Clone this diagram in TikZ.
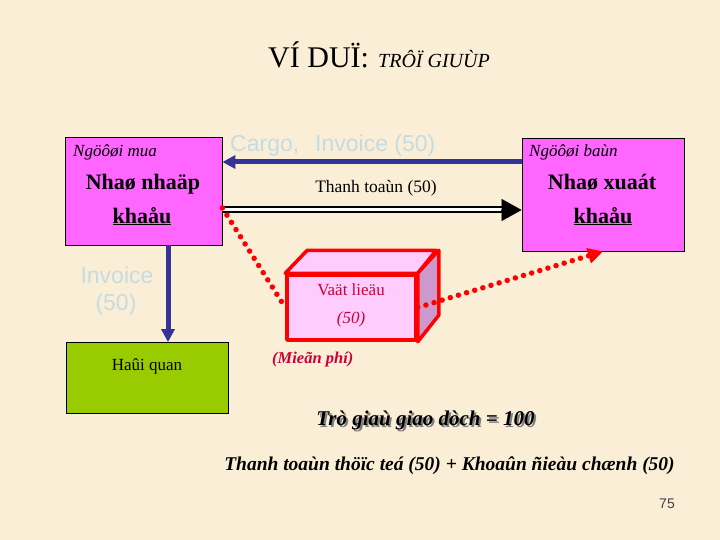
\documentclass[tikz,border=0pt]{standalone}
\usepackage{fontspec}
\setmainfont{Liberation Serif}
\newfontfamily\arialf{Liberation Sans}
\usetikzlibrary{arrows.meta}
\definecolor{bg}{HTML}{FAEED6}
\definecolor{mag}{HTML}{FF66FF}
\definecolor{grn}{HTML}{99CC00}
\definecolor{navy}{HTML}{333399}
\definecolor{pale}{HTML}{C5DCE2}
\definecolor{pinkf}{HTML}{FFCCFF}
\definecolor{pinks}{HTML}{CC99CC}
\definecolor{crim}{HTML}{CC0033}
\newcommand{\myfs}[1]{\fontsize{#1}{#1}\selectfont}
\newcommand{\shadowtext}[1]{\rlap{\kern2pt\raisebox{-2pt}{\textcolor{gray}{#1}}}#1}
\begin{document}
\begin{tikzpicture}[x=1pt,y=-1pt,
  box/.style={draw=black,line width=0.8pt,inner sep=0pt},
  txt/.style={inner sep=0pt,anchor=base},
  bluearr/.style={draw=navy,line width=5pt,-{Triangle[length=13pt,width=13pt]}},
  reddot/.style={draw=red,line width=5.5pt,line cap=round,dash pattern=on 0pt off 8.5pt},
  cubeface/.style={draw=red,line width=3.5pt,line join=round}]
\fill[bg] (0,0) rectangle (720,540);
\useasboundingbox (0,0) rectangle (720,540);

% title
\node[txt,anchor=base west,font=\myfs{30pt}] (title) at (268,68) {VÍ DUÏ:};
\node[txt,anchor=base west,font=\itshape\myfs{20pt}] (subtitle) at (378,68) {TRÔÏ GIUÙP};

% boxes
\node[box,fill=mag,minimum width=157pt,minimum height=108pt] (buyer) at (143.5,191) {};
\node[box,fill=mag,minimum width=162pt,minimum height=113pt] (seller) at (603,194.5) {};
\node[box,fill=grn,minimum width=162pt,minimum height=71pt] (customs) at (147,378) {};

% box texts
\node[txt,anchor=base west,font=\itshape\myfs{17pt}] (buyerrole) at (73,157) {Ngöôøi mua};
\node[txt,font=\bfseries\myfs{22pt}] (buyername1) at (143,190) {Nhaø nhaäp};
\node[txt,font=\bfseries\myfs{22pt}] (buyername2) at (142,223) {\underline{khaåu}};
\node[txt,anchor=base west,font=\itshape\myfs{17pt}] (sellerrole) at (529,157) {Ngöôøi baùn};
\node[txt,font=\bfseries\myfs{22pt}] (sellername1) at (602,190) {Nhaø xuaát};
\node[txt,font=\bfseries\myfs{22pt}] (sellername2) at (603,223) {\underline{khaåu}};
\node[txt,font=\myfs{17pt}] (customsname) at (147,370) {Haûi quan};

% cube
\node[cubeface,fill=pinkf,minimum width=129pt,minimum height=65pt,inner sep=0pt] (goods) at (351.5,307.5) {};
\filldraw[cubeface,fill=pinkf] (goods.north west) -- ++(22,-23) -- ++(129,0) -- (goods.north east) -- cycle;
\filldraw[cubeface,fill=pinks] (goods.north east) -- ++(21,-23) -- ++(0,65) -- (goods.south east) -- cycle;
\node[txt,font=\myfs{17pt},text=crim] (goodsname) at (351,295) {Vaät lieäu};
\node[txt,font=\itshape\myfs{17pt},text=crim] (goodsval) at (351,323) {(50)};
\node[txt,anchor=base west,font=\bfseries\itshape\myfs{16.5pt},text=crim] (free) at (272,363) {(Mieãn phí)};

% cargo arrow
\coordinate (cy) at (0,162);
\draw[bluearr] (seller.west |- cy) -- (buyer.east |- cy);
\node[txt,anchor=base west,font=\arialf\myfs{23pt},text=pale] (cargo) at (230,152) {Cargo,\hspace{16pt}Invoice (50)};

% payment arrow
\coordinate (py) at (0,210);
\coordinate (pa) at (502,210);
\draw[draw=black,line width=2pt,double=white,double distance=3pt] (buyer.east |- py) -- (pa);
\draw[line width=0.4pt,-{Triangle[length=20pt,width=22pt]}] ([xshift=-1pt]pa) -- (seller.west |- py);
\node[txt,font=\myfs{17.5pt}] (paylabel) at (376,193) {Thanh toaùn (50)};

% invoice to customs
\coordinate (dx) at (168,0);
\draw[bluearr] (buyer.south -| dx) -- (customs.north -| dx);
\node[txt,font=\arialf\myfs{23pt},text=pale] (inv1) at (117,283) {Invoice};
\node[txt,font=\arialf\myfs{23pt},text=pale] (inv2) at (116,310) {(50)};

% red dotted connectors
\draw[reddot] ([yshift=-17pt]buyer.east) -- (goods.west);
\draw[reddot,-{Triangle[length=15pt,width=15pt]}] (goods.east) -- (seller.south);

% bottom texts
\node[txt,font=\bfseries\itshape\myfs{21pt}] (value) at (425.5,425) {\shadowtext{Trò giaù giao dòch = 100}};
\node[txt,font=\bfseries\itshape\myfs{19.5pt}] (formula) at (449.5,470) {Thanh toaùn thöïc teá (50) + Khoaûn ñieàu chænh (50)};
\node[txt,font=\arialf\myfs{14pt},text=black!75] (pagenum) at (667,508) {75};
\end{tikzpicture}
\end{document}
